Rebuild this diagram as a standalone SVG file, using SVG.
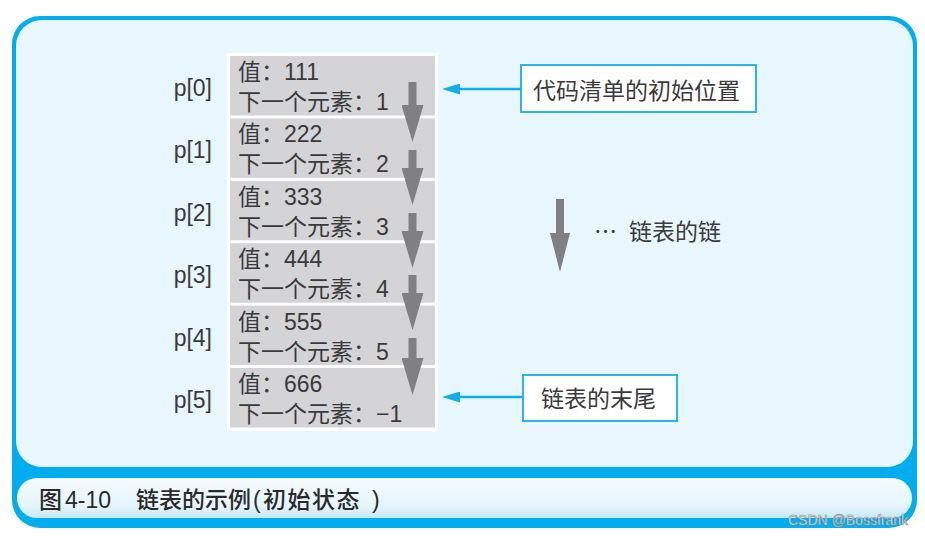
<svg xmlns="http://www.w3.org/2000/svg" width="925" height="537" viewBox="0 0 925 537">
<style>
  .t { font-family: "Liberation Sans", "Noto Sans CJK SC", sans-serif; font-size: 23px; fill: #3a3a3c; }
  .cell { fill: #d4d4d6; }
  .box { fill: #ffffff; stroke: #2ab5ec; stroke-width: 2; }
  .garrow { stroke: #808083; stroke-width: 8; fill: none; }
  .barrow { stroke: #13aeea; stroke-width: 2.5; fill: none; }
  .cap { font-family: "Liberation Sans", "Noto Sans CJK SC", sans-serif; font-size: 23px; font-weight: 500; fill: #2a2a2a; }
</style>
<defs>
  <marker id="gh" viewBox="0 -11 37 22" refX="0" refY="0" markerWidth="37" markerHeight="22" markerUnits="userSpaceOnUse" orient="auto">
    <path d="M0,-11 L37,0 L0,11 Z" fill="#808083"/>
  </marker>
  <marker id="gh2" viewBox="0 -10 39 20" refX="0" refY="0" markerWidth="39" markerHeight="20" markerUnits="userSpaceOnUse" orient="auto">
    <path d="M0,-10 L39,0 L0,10 Z" fill="#808083"/>
  </marker>
  <marker id="bh" viewBox="0 -5.5 18 11" refX="0" refY="0" markerWidth="18" markerHeight="11" markerUnits="userSpaceOnUse" orient="auto">
    <path d="M0,-5.5 L18,0 L0,5.5 Z" fill="#13aeea"/>
  </marker>
  <linearGradient id="capg" x1="0" y1="0" x2="0" y2="1">
    <stop offset="0" stop-color="#f4fbfe"/>
    <stop offset="0.7" stop-color="#e6f5fd"/>
    <stop offset="1" stop-color="#c4e8f8"/>
  </linearGradient>
</defs>

<rect x="0" y="0" width="925" height="537" fill="#ffffff"/>

<g id="frame">
  <rect x="12" y="16" width="905" height="512" rx="28" fill="#00aeef"/>
  <rect x="16" y="20" width="897" height="447" rx="26" fill="#e8f6fd"/>
  <rect x="17" y="478" width="895" height="40" rx="20" fill="url(#capg)"/>
</g>

<g id="column">
  <rect x="227" y="53" width="211" height="378" fill="#ffffff"/>
</g>

<g id="cell0">
  <rect class="cell" x="230" y="56" width="205" height="59.5"/>
  <text class="t" x="238" y="80">值：111</text>
  <text class="t" x="238" y="110">下一个元素：1</text>
  <text class="t" x="212" y="96" text-anchor="end">p[0]</text>
</g>
<g id="cell1">
  <rect class="cell" x="230" y="118.4" width="205" height="59.5"/>
  <text class="t" x="238" y="142.4">值：222</text>
  <text class="t" x="238" y="172.4">下一个元素：2</text>
  <text class="t" x="212" y="158.4" text-anchor="end">p[1]</text>
</g>
<g id="cell2">
  <rect class="cell" x="230" y="180.8" width="205" height="59.5"/>
  <text class="t" x="238" y="204.8">值：333</text>
  <text class="t" x="238" y="234.8">下一个元素：3</text>
  <text class="t" x="212" y="220.8" text-anchor="end">p[2]</text>
</g>
<g id="cell3">
  <rect class="cell" x="230" y="243.2" width="205" height="59.5"/>
  <text class="t" x="238" y="267.2">值：444</text>
  <text class="t" x="238" y="297.2">下一个元素：4</text>
  <text class="t" x="212" y="283.2" text-anchor="end">p[3]</text>
</g>
<g id="cell4">
  <rect class="cell" x="230" y="305.6" width="205" height="59.5"/>
  <text class="t" x="238" y="329.6">值：555</text>
  <text class="t" x="238" y="359.6">下一个元素：5</text>
  <text class="t" x="212" y="345.6" text-anchor="end">p[4]</text>
</g>
<g id="cell5">
  <rect class="cell" x="230" y="368" width="205" height="59.5"/>
  <text class="t" x="238" y="392">值：666</text>
  <text class="t" x="238" y="422">下一个元素：−1</text>
  <text class="t" x="212" y="408" text-anchor="end">p[5]</text>
</g>

<g id="label-start">
  <rect class="box" x="521" y="65" width="235" height="47"/>
  <text class="t" x="533" y="99">代码清单的初始位置</text>
</g>
<g id="label-end">
  <rect class="box" x="523" y="375" width="154" height="46"/>
  <text class="t" x="541" y="407">链表的末尾</text>
</g>
<g id="legend">
  <line class="garrow" x1="560" y1="199" x2="560" y2="233" stroke-width="7" marker-end="url(#gh2)"/>
  <text class="t"><tspan x="594" y="240" font-family="Noto Sans CJK SC, sans-serif">…</tspan><tspan x="629" y="240">链表的链</tspan></text>
</g>

<g id="connectors">
  <line class="garrow" x1="412.5" y1="82" x2="412.5" y2="105" marker-end="url(#gh)"/>
  <line class="garrow" x1="412.5" y1="150" x2="412.5" y2="168" marker-end="url(#gh)"/>
  <line class="garrow" x1="412.5" y1="213" x2="412.5" y2="231" marker-end="url(#gh)"/>
  <line class="garrow" x1="412.5" y1="275" x2="412.5" y2="293" marker-end="url(#gh)"/>
  <line class="garrow" x1="412.5" y1="338" x2="412.5" y2="358" marker-end="url(#gh)"/>
  <line class="barrow" x1="521" y1="89" x2="460" y2="89" marker-end="url(#bh)"/>
  <line class="barrow" x1="523" y1="397" x2="460" y2="397" marker-end="url(#bh)"/>
</g>

<g id="caption">
  <text class="cap" y="508"><tspan x="39">图</tspan><tspan x="65">4-10</tspan><tspan x="136">链表的示例</tspan><tspan x="253">(</tspan><tspan x="263" letter-spacing="1.5">初始状态</tspan><tspan x="372">)</tspan></text>
</g>
<text x="788" y="525" font-family="Liberation Sans, sans-serif" font-size="14" fill="#ffffff" stroke="#8a8a8a" stroke-width="0.6">CSDN @Bossfrank</text>
</svg>
